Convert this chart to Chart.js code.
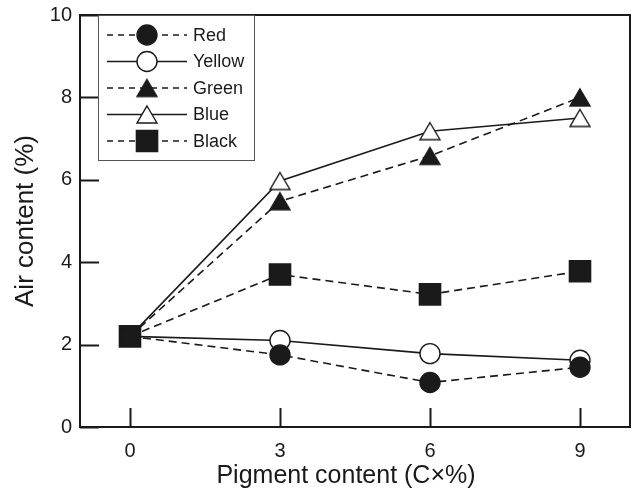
<!DOCTYPE html>
<html>
<head>
<meta charset="utf-8">
<script src="https://cdn.jsdelivr.net/npm/chart.js@4/dist/chart.umd.min.js"></script>
<style>
  html, body { margin: 0; padding: 0; background: #fff; }
  #wrap { width: 632px; height: 491px; }
</style>
</head>
<body>
<div id="wrap"><canvas id="c" width="632" height="491"></canvas></div>
<script>
// Pigment dosage (C x %) and measured air content (%)
const pigmentLevels = [0, 3, 6, 9];
const seriesNames = ['Red', 'Yellow', 'Green', 'Blue', 'Black'];
const redAir    = [2.2, 1.75, 1.08, 1.45];
const yellowAir = [2.2, 2.1, 1.78, 1.62];
const greenAir  = [2.2, 5.48, 6.58, 8.0];
const blueAir   = [2.2, 5.97, 7.18, 7.5];
const blackAir  = [2.2, 3.7, 3.22, 3.78];
const xTickValues = [0, 3, 6, 9];
const yTickValues = [0, 2, 4, 6, 8, 10];
const xTitle = 'Pigment content (C\u00d7%)';
const yTitle = 'Air content (%)';

const FONT = "'Liberation Sans', Arial, Helvetica, sans-serif";
const INK = '#1a1a1a';

// triangle marker centred on its bounding box
function triangleSprite(fill) {
  const w = 20, h = 17, pad = 2;
  const cv = document.createElement('canvas');
  cv.width = w + 2 * pad;
  cv.height = h + 2 * pad;
  const c = cv.getContext('2d');
  c.beginPath();
  c.moveTo(pad + w / 2, pad);
  c.lineTo(pad + w, pad + h);
  c.lineTo(pad, pad + h);
  c.closePath();
  c.fillStyle = fill;
  c.fill();
  c.lineWidth = 1.4;
  c.strokeStyle = INK;
  c.stroke();
  return cv;
}

// marker shape, fill and line dash for each pigment
const looks = {
  Red:    { shape: 'circle', r: 10, fill: INK,    dash: [8, 5] },
  Yellow: { shape: 'circle', r: 10, fill: '#fff', dash: [] },
  Green:  { shape: triangleSprite(INK),    r: 11, fill: INK,    dash: [8, 5] },
  Blue:   { shape: triangleSprite('#fff'), r: 11, fill: '#fff', dash: [] },
  Black:  { shape: 'rect',   r: 15, fill: INK,    dash: [8, 5] }
};
const values = { Red: redAir, Yellow: yellowAir, Green: greenAir, Blue: blueAir, Black: blackAir };

const datasets = seriesNames.map(name => {
  const lk = looks[name];
  return {
    label: name,
    data: pigmentLevels.map((x, i) => ({ x: x, y: values[name][i] })),
    showLine: true,
    borderColor: INK,
    borderWidth: 1.6,
    borderDash: lk.dash,
    pointStyle: lk.shape,
    pointRadius: lk.r,
    pointHoverRadius: lk.r,
    pointBackgroundColor: lk.fill,
    pointBorderColor: INK,
    pointBorderWidth: 1.4,
    fill: false,
    tension: 0,
    clip: false
  };
});

function drawMarker(ctx, shape, r, x, y, fill) {
  ctx.save();
  ctx.setLineDash([]);
  if (typeof shape !== 'string') {
    ctx.drawImage(shape, x - shape.width / 2, y - shape.height / 2);
    ctx.restore();
    return;
  }
  ctx.lineWidth = 1.4;
  ctx.strokeStyle = INK;
  ctx.fillStyle = fill;
  ctx.beginPath();
  if (shape === 'circle') {
    ctx.arc(x, y, r, 0, Math.PI * 2);
  } else {
    const h = r * Math.SQRT1_2;
    ctx.rect(x - h, y - h, 2 * h, 2 * h);
  }
  ctx.fill();
  ctx.stroke();
  ctx.restore();
}

// plot frame with inward tick marks, plus the x-axis caption
const framePlugin = {
  id: 'frame',
  beforeDatasetsDraw(chart) {
    const { ctx, chartArea: a, scales } = chart;
    ctx.save();
    ctx.strokeStyle = INK;
    ctx.lineWidth = 2;
    ctx.setLineDash([]);
    ctx.strokeRect(a.left, a.top, a.right - a.left, a.bottom - a.top);
    ctx.beginPath();
    scales.x.ticks.forEach(t => {
      const px = Math.round(scales.x.getPixelForValue(t.value)) + 0.5;
      ctx.moveTo(px, a.bottom);
      ctx.lineTo(px, a.bottom - 19);
    });
    scales.y.ticks.forEach(t => {
      const py = Math.round(scales.y.getPixelForValue(t.value)) + 0.5;
      ctx.moveTo(a.left, py);
      ctx.lineTo(a.left + 19, py);
    });
    ctx.stroke();

    ctx.fillStyle = INK;
    ctx.font = '25px ' + FONT;
    ctx.textAlign = 'center';
    ctx.textBaseline = 'alphabetic';
    ctx.fillText(xTitle, a.left + 266, a.bottom + 56);
    ctx.restore();
  }
};

// boxed legend with line sample and marker
const legendPlugin = {
  id: 'boxLegend',
  afterDraw(chart) {
    const { ctx, chartArea: a } = chart;
    const left = a.left + 18, top = a.top, width = 156, height = 145;
    ctx.save();
    ctx.fillStyle = '#fff';
    ctx.fillRect(left, top, width, height);
    ctx.strokeStyle = '#555';
    ctx.lineWidth = 1;
    ctx.strokeRect(left + 0.5, top + 0.5, width, height);
    chart.data.datasets.forEach((ds, i) => {
      const lk = looks[ds.label];
      const y = top + 20 + i * 26.5;
      ctx.strokeStyle = INK;
      ctx.lineWidth = 1.6;
      ctx.setLineDash(lk.dash.length ? [6, 5] : []);
      ctx.beginPath();
      ctx.moveTo(left + 9, y);
      ctx.lineTo(left + 89, y);
      ctx.stroke();
      drawMarker(ctx, lk.shape, lk.r, left + 49, y, lk.fill);
      ctx.setLineDash([]);
      ctx.fillStyle = INK;
      ctx.font = '18px ' + FONT;
      ctx.textBaseline = 'middle';
      ctx.textAlign = 'left';
      ctx.fillText(ds.label, left + 95, y + 1);
    });
    ctx.restore();
  }
};

new Chart(document.getElementById('c'), {
  type: 'scatter',
  data: { datasets: datasets },
  options: {
    responsive: false,
    devicePixelRatio: 1,
    animation: false,
    layout: { autoPadding: false, padding: { top: 15, right: 2, left: 0, bottom: 0 } },
    plugins: { legend: { display: false }, tooltip: { enabled: false } },
    scales: {
      x: {
        type: 'linear', min: -1, max: 10,
        afterBuildTicks: s => { s.ticks = xTickValues.map(v => ({ value: v })); },
        afterFit: s => { s.height = 64; s.paddingLeft = 0; s.paddingRight = 0; },
        grid: { display: false, drawTicks: false },
        border: { display: false },
        ticks: { color: INK, font: { family: FONT, size: 20 }, padding: 12 },
        title: { display: false }
      },
      y: {
        type: 'linear', min: 0, max: 10,
        afterBuildTicks: s => { s.ticks = yTickValues.map(v => ({ value: v })); },
        afterFit: s => { s.width = 80; s.paddingTop = 0; s.paddingBottom = 0; },
        grid: { display: false, drawTicks: false },
        border: { display: false },
        ticks: { color: INK, font: { family: FONT, size: 20 }, padding: 8 },
        title: { display: true, text: yTitle, color: INK,
                 font: { family: FONT, size: 26 }, padding: { top: 10, bottom: 0 } }
      }
    }
  },
  plugins: [framePlugin, legendPlugin]
});
</script>
</body>
</html>
